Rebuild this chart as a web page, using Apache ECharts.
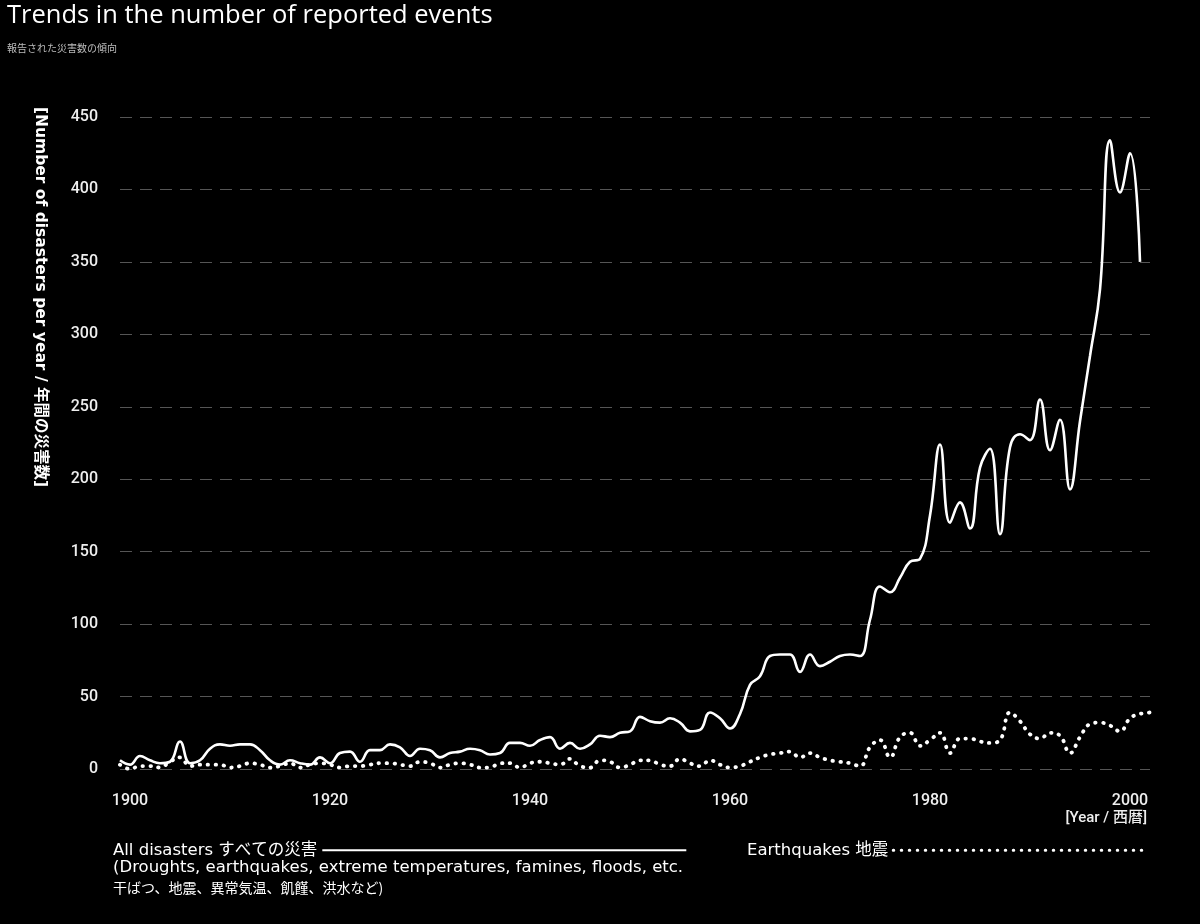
<!DOCTYPE html>
<html>
<head>
<meta charset="utf-8">
<title>Trends in the number of reported events</title>
<script src="https://cdn.jsdelivr.net/npm/echarts@6/dist/echarts.min.js"></script>
<style>
  html, body { margin: 0; padding: 0; background: #000; }
  #chart { width: 1200px; height: 924px; }
</style>
</head>
<body>
<div id="chart"></div>
<script>
// data, one value per year
var startYear = 1899;
// all disasters, 1899 - 2001
var allDisasters = [
  6, 3, 9, 6, 4, 5, 19, 4, 6, 14,
  17, 16, 17, 17, 13, 6, 3, 6, 4, 3,
  8, 4, 11, 12, 5, 13, 13, 17, 15, 9,
  14, 13, 8, 11, 12, 14, 13, 10, 11, 18,
  18, 16, 20, 22, 14, 18, 14, 17, 23, 22,
  25, 26, 36, 33, 32, 35, 32, 26, 27, 39,
  35, 28, 38, 58, 64, 78, 79, 79, 67, 79,
  71, 74, 78, 79, 78, 103, 126, 122, 132, 143,
  145, 175, 224, 170, 184, 166, 208, 221, 162, 222,
  231, 227, 255, 220, 241, 193, 240, 285, 331, 434,
  398, 425, 350
];
// earthquakes, 1899 - 2002
var earthquakes = [
  3, 0, 2, 2, 1, 5, 8, 2, 3, 3,
  3, 1, 2, 4, 3, 1, 2, 4, 1, 3,
  4, 3, 1, 2, 2, 3, 4, 4, 3, 2,
  5, 4, 1, 3, 4, 3, 1, 1, 4, 4,
  1, 4, 5, 4, 3, 7, 2, 1, 6, 5,
  1, 3, 6, 6, 3, 2, 7, 4, 2, 6,
  3, 1, 2, 5, 8, 10, 11, 12, 8, 11,
  8, 6, 5, 4, 2, 15, 20, 8, 22, 25,
  16, 20, 25, 11, 21, 21, 19, 18, 20, 39,
  33, 24, 21, 25, 23, 11, 22, 31, 32, 30,
  26, 35, 38, 39
];
var yearTicks = [1900, 1920, 1940, 1960, 1980, 2000];
var yTicks = { min: 0, max: 450, step: 50 };

var seriesNames = ['All disasters すべての災害', 'Earthquakes 地震'];

function toPairs(values) {
  return values.map(function (v, i) { return [startYear + i, v]; });
}

var chart = echarts.init(document.getElementById('chart'));

var txtFont = '"DejaVu Sans", "Noto Sans CJK JP", sans-serif';
var axisFont = 'Roboto, "Noto Sans CJK JP", sans-serif';

var option = {
  backgroundColor: '#000',
  animation: false,
  title: {
    text: 'Trends in the number of reported events',
    subtext: '報告された災害数の傾向',
    left: 2,
    top: -2,
    itemGap: 14,
    textStyle: { color: '#fff', fontSize: 25.5, fontWeight: 500, fontFamily: '"Open Sans", sans-serif' },
    subtextStyle: { color: '#bbb', fontSize: 10, fontFamily: '"Noto Sans CJK JP", sans-serif' }
  },
  grid: { left: 120, right: 50, top: 117, bottom: 155 },
  legend: [{
    data: [seriesNames[0]],
    left: 108,
    top: 837,
    align: 'right',
    itemWidth: 364,
    itemHeight: 14,
    itemStyle: { opacity: 0 },
    lineStyle: { width: 2.2 },
    textStyle: { color: '#fff', fontSize: 16.5, fontFamily: txtFont }
  }, {
    data: [seriesNames[1]],
    left: 742,
    top: 837,
    align: 'right',
    itemWidth: 253,
    itemHeight: 14,
    itemStyle: { opacity: 0 },
    lineStyle: { width: 3 },
    textStyle: { color: '#fff', fontSize: 16.5, fontFamily: txtFont }
  }],
  xAxis: {
    type: 'value',
    min: startYear,
    max: 2002,
    axisLine: { show: false },
    axisTick: { show: false },
    splitLine: { show: false },
    axisLabel: {
      customValues: yearTicks,
      formatter: function (v) { return String(v); },
      color: '#eee',
      fontSize: 16,
      fontWeight: 500,
      fontFamily: axisFont,
      margin: 24
    }
  },
  yAxis: {
    type: 'value',
    min: yTicks.min,
    max: yTicks.max,
    interval: yTicks.step,
    axisLine: { show: false },
    axisTick: { show: false },
    axisLabel: {
      color: '#eee',
      fontSize: 16,
      fontWeight: 500,
      fontFamily: axisFont,
      margin: 22
    },
    splitLine: {
      lineStyle: { color: '#555', width: 1, type: [12, 8] }
    }
  },
  graphic: [
    {
      type: 'text',
      x: 40,
      y: 297,
      rotation: -Math.PI / 2,
      style: {
        text: '[Number of disasters per year / 年間の災害数]',
        fill: '#fff',
        font: 'bold 15.5px "DejaVu Sans", "Noto Sans CJK JP", sans-serif',
        align: 'center',
        verticalAlign: 'middle'
      }
    },
    {
      type: 'text',
      x: 1147,
      y: 818,
      style: {
        text: '[Year / 西暦]',
        fill: '#eee',
        font: '500 15px Roboto, "Noto Sans CJK JP", sans-serif',
        align: 'right',
        verticalAlign: 'middle'
      }
    },
    {
      type: 'text',
      x: 113,
      y: 868,
      style: {
        text: '(Droughts, earthquakes, extreme temperatures, famines, floods, etc.',
        fill: '#fff',
        font: '16.5px "DejaVu Sans", "Noto Sans CJK JP", sans-serif',
        verticalAlign: 'middle'
      }
    },
    {
      type: 'text',
      x: 113,
      y: 888,
      style: {
        text: '干ばつ、地震、異常気温、飢饉、洪水など)',
        fill: '#fff',
        font: '14px "Noto Sans CJK JP", sans-serif',
        verticalAlign: 'middle'
      }
    }
  ],
  series: [
    {
      name: seriesNames[0],
      type: 'line',
      data: toPairs(allDisasters),
      smooth: 0.45,
      symbol: 'none',
      lineStyle: { color: '#fff', width: 2.6 },
      itemStyle: { color: '#fff' },
      z: 3
    },
    {
      name: seriesNames[1],
      type: 'line',
      data: toPairs(earthquakes),
      smooth: 0.45,
      symbol: 'none',
      lineStyle: { color: '#fff', width: 3.8, type: [0.5, 7.5], cap: 'round' },
      itemStyle: { color: '#fff' },
      z: 2
    }
  ]
};
chart.setOption(option);
</script>
</body>
</html>
